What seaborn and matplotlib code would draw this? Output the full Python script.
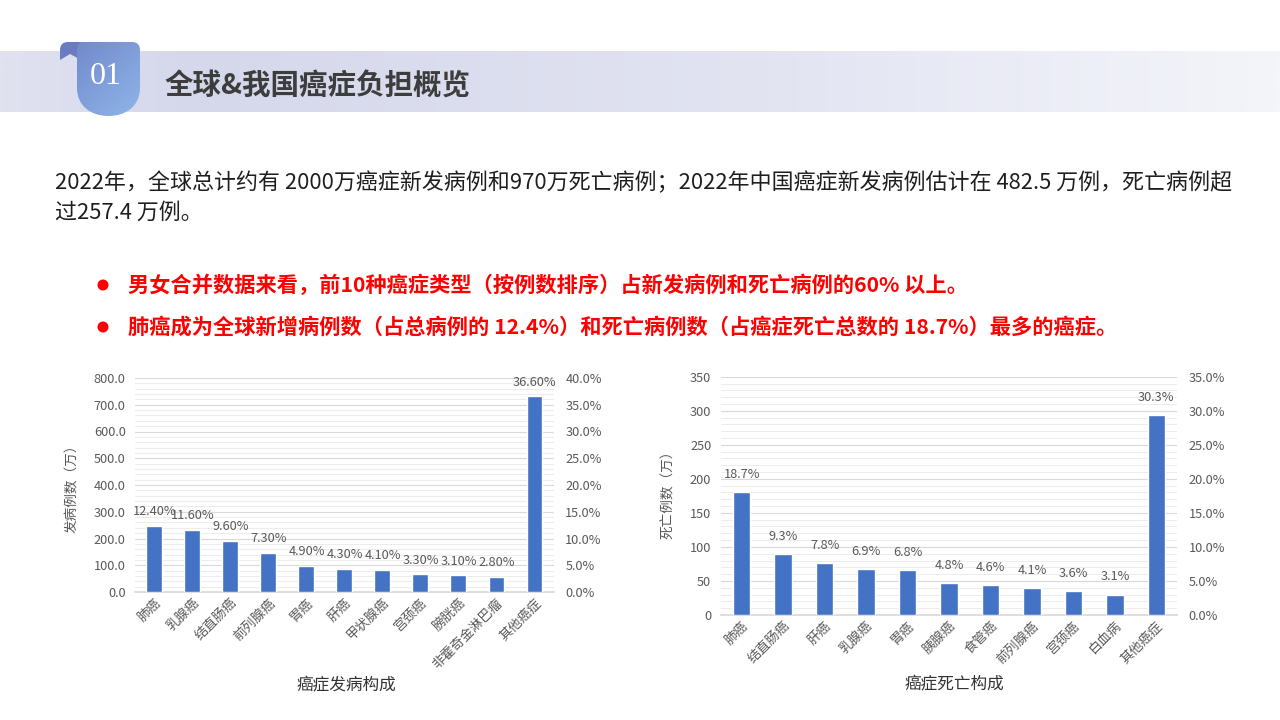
import numpy as np
import matplotlib
matplotlib.use("Agg")
import matplotlib.pyplot as plt
from matplotlib.path import Path
from matplotlib.patches import PathPatch, Circle
from matplotlib.colors import LinearSegmentedColormap
from matplotlib.ticker import MultipleLocator, FuncFormatter
import seaborn as sns

# ---------------- data ----------------
inc_categories = ["肺癌", "乳腺癌", "结直肠癌", "前列腺癌", "胃癌", "肝癌", "甲状腺癌",
                  "宫颈癌", "膀胱癌", "非霍奇金淋巴瘤", "其他癌症"]
inc_values = [248, 232, 192, 146, 98, 86, 82, 66, 62, 56, 732]
inc_labels = ["12.40%", "11.60%", "9.60%", "7.30%", "4.90%", "4.30%", "4.10%",
              "3.30%", "3.10%", "2.80%", "36.60%"]

death_categories = ["肺癌", "结直肠癌", "肝癌", "乳腺癌", "胃癌", "胰腺癌", "食管癌",
                    "前列腺癌", "宫颈癌", "白血病", "其他癌症"]
death_values = [181, 90, 76, 67, 66, 47, 44, 40, 35, 30, 294]
death_labels = ["18.7%", "9.3%", "7.8%", "6.9%", "6.8%", "4.8%", "4.6%",
                "4.1%", "3.6%", "3.1%", "30.3%"]

header_num = "01"
header_title = "全球&我国癌症负担概览"
body_line1 = "2022年，全球总计约有 2000万癌症新发病例和970万死亡病例；2022年中国癌症新发病例估计在 482.5 万例，死亡病例超"
body_line2 = "过257.4 万例。"
bullet1 = "男女合并数据来看，前10种癌症类型（按例数排序）占新发病例和死亡病例的60% 以上。"
bullet2 = "肺癌成为全球新增病例数（占总病例的 12.4%）和死亡病例数（占癌症死亡总数的 18.7%）最多的癌症。"

# ---------------- style ----------------
sns.set_theme(style="white")
plt.rcParams["font.family"] = ["Noto Sans CJK SC", "DejaVu Sans"]
plt.rcParams["axes.unicode_minus"] = False

W, H = 1280, 720
fig = plt.figure(figsize=(12.8, 7.2), dpi=100)
fig.patch.set_facecolor("white")

# background axes in pixel coords (y downward)
bg = fig.add_axes([0, 0, 1, 1], zorder=0)
bg.set_xlim(0, W)
bg.set_ylim(H, 0)
bg.axis("off")

# header band gradient
band_cmap = LinearSegmentedColormap.from_list(
    "band", [(0.0, "#e0e2f0"), (0.15, "#d5d8eb"), (0.6, "#e2e4f2"), (1.0, "#f4f5fa")])
grad = np.linspace(0, 1, 512).reshape(1, -1)
bg.imshow(grad, cmap=band_cmap, extent=[0, W, 112, 51], aspect="auto", zorder=1)

# tab flap (darker curl at top-left)
flap_verts = [(60, 60), (60, 50), (60, 42), (68, 42), (84, 42), (84, 62), (78, 58),
              (70, 54), (60, 60)]
flap_codes = [Path.MOVETO, Path.LINETO, Path.CURVE3, Path.CURVE3, Path.LINETO,
              Path.LINETO, Path.CURVE3, Path.CURVE3, Path.CLOSEPOLY]
bg.add_patch(PathPatch(Path(flap_verts, flap_codes), facecolor="#6a7bc2",
                       edgecolor="none", zorder=2))

# tab body with gradient
verts = [(77, 50), (77, 88),
         (77, 106), (91, 116), (108.5, 116),
         (126, 116), (140, 106), (140, 88),
         (140, 50),
         (140, 42), (132, 42),
         (82, 42),
         (77, 42), (77, 50),
         (77, 50)]
codes = [Path.MOVETO, Path.LINETO,
         Path.CURVE4, Path.CURVE4, Path.CURVE4,
         Path.CURVE4, Path.CURVE4, Path.CURVE4,
         Path.LINETO,
         Path.CURVE3, Path.CURVE3,
         Path.LINETO,
         Path.CURVE3, Path.CURVE3,
         Path.CLOSEPOLY]
tab_patch = PathPatch(Path(verts, codes), facecolor="none", edgecolor="none", zorder=3)
bg.add_patch(tab_patch)
tab_cmap = LinearSegmentedColormap.from_list("tab", ["#6f84c9", "#8fb6e8"])
gx, gy = np.meshgrid(np.linspace(0, 1, 100), np.linspace(0, 1, 100))
tab_grad = (gx * 0.5 + gy * 0.5)
im = bg.imshow(tab_grad, cmap=tab_cmap, extent=[60, 141, 117, 41], aspect="auto", zorder=3)
im.set_clip_path(tab_patch)

bg.text(106, 77, header_num, color="white", fontsize=23, family=["Liberation Serif"],
        ha="center", va="center", zorder=4)
bg.text(165, 86, header_title, color="#3d3d3d", fontsize=20.5, fontweight="bold",
        ha="left", va="center", zorder=4)

# body text with width fitting
renderer = fig.canvas.get_renderer()


def fit_text(x, y, s, target_w, base_size, **kw):
    t = bg.text(x, y, s, fontsize=base_size, ha="left", va="center", **kw)
    bb = t.get_window_extent(renderer=renderer)
    if bb.width > 0:
        t.set_fontsize(base_size * target_w / bb.width)
    return t


t1 = fit_text(55, 183, body_line1, 1175, 15, color="#1e1e1e")
fs_body = t1.get_fontsize()
bg.text(55, 213, body_line2, fontsize=fs_body, ha="left", va="center", color="#1e1e1e")

b2 = fit_text(128, 327, bullet2, 990, 15, color="#ff0000", fontweight="bold")
fs_b = b2.get_fontsize()
bg.text(128, 285, bullet1, fontsize=fs_b, ha="left", va="center", color="#ff0000",
        fontweight="bold")
for yy in (285, 327):
    bg.add_patch(Circle((103, yy), 5.5, facecolor="#ff0000", edgecolor="none", zorder=4))

# ---------------- charts ----------------
BAR = "#4472C4"
TICK = "#595959"


def make_chart(rect, cats, vals, labels, ymax, ymajor, yminor, yfmt, pmax, ylabel,
               ylabel_xy, label_off):
    l, t, r, b = rect
    ax = fig.add_axes([l / W, (H - b) / H, (r - l) / W, (b - t) / H], zorder=2)
    ax.set_facecolor("none")
    sns.barplot(x=cats, y=vals, ax=ax, color=BAR, saturation=1, width=0.42, zorder=3)
    ax.set_ylim(0, ymax)
    ax.set_xlim(-0.5, len(cats) - 0.5)
    ax.yaxis.set_major_locator(MultipleLocator(ymajor))
    ax.yaxis.set_minor_locator(MultipleLocator(yminor))
    ax.yaxis.set_major_formatter(FuncFormatter(yfmt))
    ax.grid(True, which="major", axis="y", color="#d9d9d9", lw=0.8, zorder=0)
    ax.grid(True, which="minor", axis="y", color="#ececec", lw=0.7, zorder=0)
    ax.grid(False, axis="x")
    for s in ("top", "right", "left"):
        ax.spines[s].set_visible(False)
    ax.spines["bottom"].set_color("#d9d9d9")
    ax.tick_params(axis="y", which="both", length=0, pad=7, labelsize=9.2, labelcolor=TICK)
    ax.tick_params(axis="x", length=0, pad=3, labelsize=9.5, labelcolor=TICK)
    for lab in ax.get_xticklabels():
        lab.set_rotation(45)
        lab.set_ha("right")
        lab.set_va("top")
        lab.set_rotation_mode("anchor")
    ax.set_xlabel("")
    ax.set_ylabel(ylabel, fontsize=9.8, color=TICK)
    ax.yaxis.set_label_coords(*ylabel_xy)
    for i, (v, s) in enumerate(zip(vals, labels)):
        ax.annotate(s, (i, v), xytext=(0, label_off), textcoords="offset points",
                    ha="center", va="bottom", fontsize=9.2, color=TICK, zorder=4)
    ax2 = ax.twinx()
    ax2.set_ylim(0, pmax)
    ax2.yaxis.set_major_locator(MultipleLocator(5))
    ax2.yaxis.set_major_formatter(FuncFormatter(lambda v, p: f"{v:.1f}%"))
    ax2.grid(False)
    for s in ax2.spines.values():
        s.set_visible(False)
    ax2.tick_params(axis="y", length=0, pad=8.5, labelsize=9.2, labelcolor=TICK)
    return ax


make_chart((135.4, 378, 553.5, 592), inc_categories, inc_values, inc_labels,
           800, 100, 20, lambda v, p: f"{v:.1f}", 40, "发病例数（万）",
           (-0.135, 0.5), 5.5)
make_chart((721, 376.7, 1177, 615), death_categories, death_values, death_labels,
           350, 50, 10, lambda v, p: f"{v:.0f}", 35, "死亡例数（万）",
           (-0.1, 0.52), 8)

bg.text(346, 686, "癌症发病构成", fontsize=12, color="#333333", ha="center", va="center")
bg.text(954, 685, "癌症死亡构成", fontsize=12, color="#333333", ha="center", va="center")

fig.savefig("out.png", dpi=100, facecolor="white")
